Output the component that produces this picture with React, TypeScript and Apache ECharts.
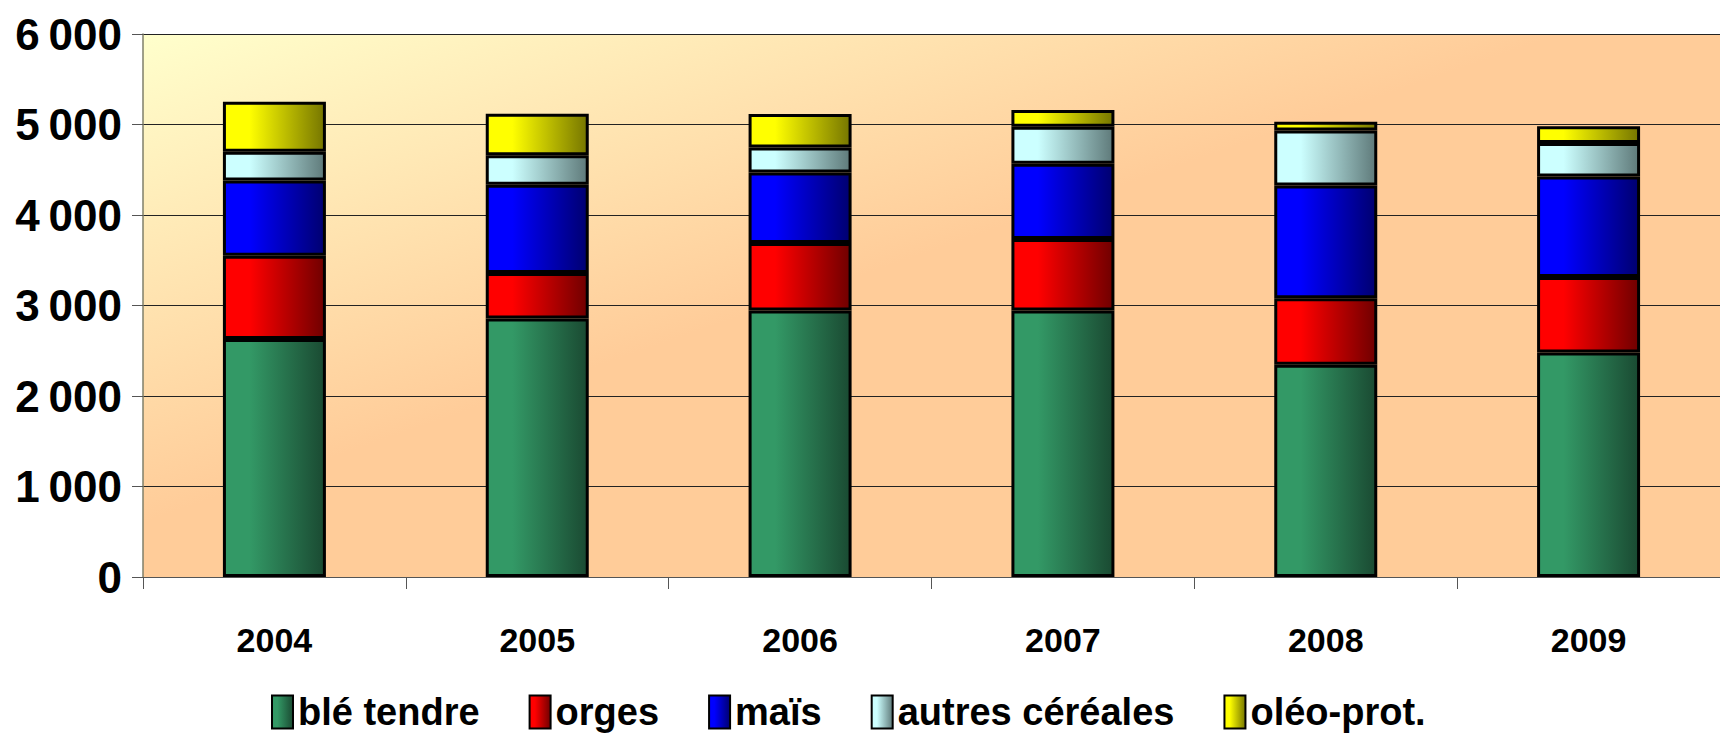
import React, { useEffect, useRef } from "react";
import * as echarts from "echarts";

const years = ["2004", "2005", "2006", "2007", "2008", "2009"];
const bleTendre = [2630, 2855, 2945, 2945, 2345, 2480];
const orges = [920, 505, 745, 790, 735, 835];
const mais = [830, 975, 780, 830, 1245, 1110];
const autresCereales = [320, 325, 275, 410, 610, 370];
const oleoProt = [550, 460, 370, 185, 95, 185];
const seriesNames = ["blé tendre", "orges", "maïs", "autres céréales", "oléo-prot."];

const FONT = "'Liberation Sans', Arial, sans-serif";

const grad = (light: string, dark: string) =>
  new echarts.graphic.LinearGradient(0, 0, 1, 0, [
    { offset: 0, color: light },
    { offset: 0.25, color: light },
    { offset: 1, color: dark },
  ]);

export default function App() {
  const ref = useRef<HTMLDivElement>(null);
  useEffect(() => {
    document.body.style.margin = "0";
    const chart = echarts.init(ref.current!, null, { renderer: "svg" });
    const seriesData = [bleTendre, orges, mais, autresCereales, oleoProt];
    const colors = [
      ["#339966", "#1a4a32"],
      ["#ff0000", "#700000"],
      ["#0000ff", "#000070"],
      ["#ccffff", "#5f7a7a"],
      ["#ffff00", "#767600"],
    ];
    chart.setOption({
      animation: false,
      backgroundColor: "#ffffff",
      grid: {
        left: 143,
        top: 34,
        width: 1596,
        height: 543,
        containLabel: false,
        show: true,
        borderWidth: 0,
        backgroundColor: new echarts.graphic.LinearGradient(0, 0, 1, 1, [
          { offset: 0, color: "#ffffcc" },
          { offset: 0.45, color: "#ffcc99" },
          { offset: 1, color: "#ffcc99" },
        ]),
      },
      legend: {
        left: 266,
        top: 688,
        icon: "rect",
        itemWidth: 21,
        itemHeight: 33,
        itemGap: 49,
        data: seriesNames,
        textStyle: { fontFamily: FONT, fontSize: 38, fontWeight: "bold", color: "#000" },
      },
      xAxis: {
        type: "category",
        data: years,
        axisLine: { show: true, lineStyle: { color: "#555", width: 1 } },
        axisTick: { show: true, length: 12, lineStyle: { color: "#555" } },
        axisLabel: {
          fontFamily: FONT,
          fontSize: 34,
          fontWeight: "bold",
          color: "#000",
          margin: 46,
        },
      },
      yAxis: {
        type: "value",
        min: 0,
        max: 6000,
        interval: 1000,
        axisLine: { show: true, lineStyle: { color: "#7f7f6a", width: 1.5 } },
        axisTick: { show: true, length: 11, lineStyle: { color: "#555" } },
        splitLine: { show: true, lineStyle: { color: "#222", width: 1 } },
        axisLabel: {
          fontFamily: FONT,
          fontSize: 44,
          fontWeight: "bold",
          color: "#000",
          margin: 21,
          formatter: (v: number) => (v === 0 ? "0" : `${v / 1000}\u2009000`),
        },
      },
      series: seriesData.map((d, i) => ({
        name: seriesNames[i],
        type: "bar",
        stack: "total",
        barWidth: 103,
        data: d,
        itemStyle: {
          color: grad(colors[i][0], colors[i][1]),
          borderColor: "#000",
          borderWidth: 3,
        },
      })),
    });
    return () => chart.dispose();
  }, []);
  return <div ref={ref} style={{ width: 1720, height: 734 }} />;
}
